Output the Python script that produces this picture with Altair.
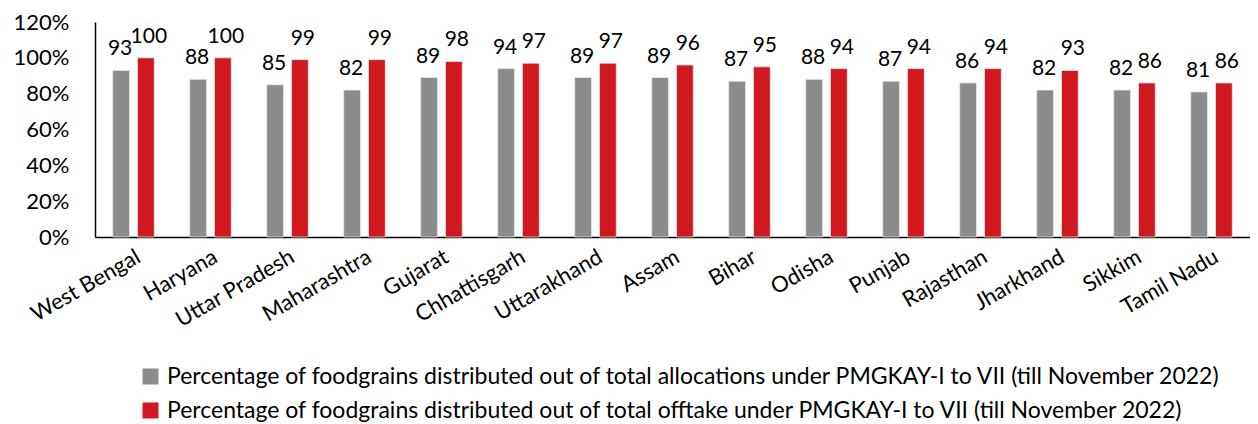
import altair as alt
import pandas as pd

states = ["West Bengal", "Haryana", "Uttar Pradesh", "Maharashtra", "Gujarat",
          "Chhattisgarh", "Uttarakhand", "Assam", "Bihar", "Odisha", "Punjab",
          "Rajasthan", "Jharkhand", "Sikkim", "Tamil Nadu"]
allocations = [93, 88, 85, 82, 89, 94, 89, 89, 87, 88, 87, 86, 82, 82, 81]
offtake = [100, 100, 99, 99, 98, 97, 97, 96, 95, 94, 94, 94, 93, 86, 86]
series = [
    "Percentage of foodgrains distributed out of total allocations under PMGKAY-I to VII (till November 2022)",
    "Percentage of foodgrains distributed out of total offtake under PMGKAY-I to VII (till November 2022)",
]
colors = ["#8B8C8E", "#D0191F"]
y_ticks = [0, 20, 40, 60, 80, 100, 120]

rows = []
for i, s in enumerate(states):
    rows.append({"State": s, "Series": series[0], "Value": allocations[i]})
    rows.append({"State": s, "Series": series[1], "Value": offtake[i]})
df = pd.DataFrame(rows)

FONT = "Lato"

x_enc = alt.X("State:N", sort=states, title=None,
              scale=alt.Scale(paddingInner=0.46, paddingOuter=0.23),
              axis=alt.Axis(labelAngle=-30, labelAlign="right", labelBaseline="top",
                            labelFontSize=22, labelFont=FONT, labelColor="#000000",
                            labelOverlap=False, labelLimit=300,
                            ticks=False, labelPadding=9, domainColor="#000000",
                            domainWidth=1.5))
xoff = alt.XOffset("Series:N", sort=series, scale=alt.Scale(paddingInner=0.32))
y_enc = alt.Y("Value:Q", title=None, scale=alt.Scale(domain=[0, 120]),
              axis=alt.Axis(values=y_ticks, labelExpr="datum.value + '%'",
                            grid=False, ticks=False, labelPadding=26,
                            labelOverlap=False, labelBound=False, labelFlush=False,
                            labelFontSize=22, labelFont=FONT, labelColor="#000000",
                            domainColor="#000000", domainWidth=1.5))

base = alt.Chart(df).encode(x=x_enc, xOffset=xoff, y=y_enc)
bars = base.mark_bar(stroke="#E8E8E8", strokeWidth=0.8).encode(
    color=alt.Color("Series:N", sort=series,
                    scale=alt.Scale(domain=series, range=colors),
                    legend=alt.Legend(title=None, orient="none", legendX=44, legendY=343,
                                      symbolType="square", symbolSize=256,
                                      symbolStrokeWidth=0,
                                      labelFontSize=23, labelFont=FONT,
                                      labelColor="#000000", labelLimit=1200,
                                      rowPadding=10, labelOffset=5)),
)
labels_alloc = base.transform_filter(alt.datum.Series == series[0]).mark_text(
    baseline="alphabetic", dy=-15, dx=-1, fontSize=21, font=FONT, color="#000000"
).encode(text=alt.Text("Value:Q"))
labels_off = base.transform_filter(alt.datum.Series == series[1]).mark_text(
    baseline="alphabetic", dy=-15, dx=3, fontSize=21, font=FONT, color="#000000"
).encode(text=alt.Text("Value:Q"))

chart = alt.layer(bars, labels_alloc, labels_off).properties(
    width=1155, height=215,
    autosize=alt.AutoSizeParams(type="none"),
    padding={"left": 87, "top": 14, "right": 0, "bottom": 187},
).configure_view(stroke=None).configure_axisY(labelOverlap=False)

chart.save("out.html", embed_options={"renderer": "svg", "actions": False})
